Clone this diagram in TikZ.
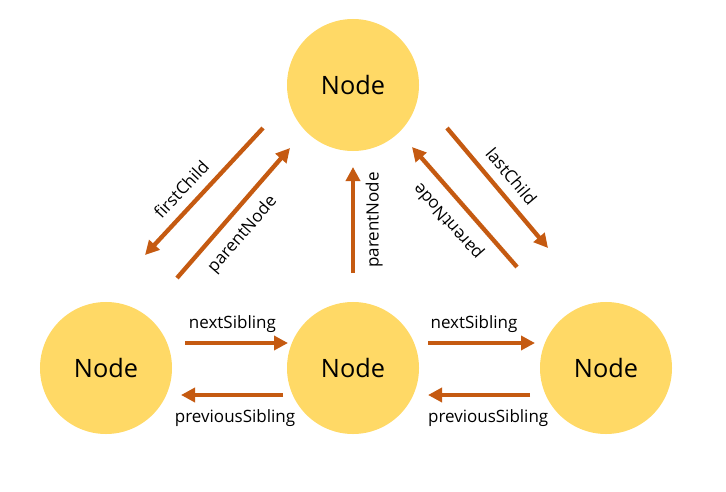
\documentclass[tikz,border=0pt]{standalone}
\usepackage{fontspec}
\setmainfont{Open Sans}
\usetikzlibrary{arrows.meta, positioning, calc}
\definecolor{nodeyellow}{RGB}{255,217,102}
\definecolor{linkorange}{RGB}{197,90,17}
\tikzset{
  treenode/.style={circle,fill=nodeyellow,minimum size=3.96cm,inner sep=0pt,font=\fontsize{21.6}{26}\selectfont},
  linkarr/.style={-{Triangle[length=0.42cm,width=0.42cm]},line width=0.13cm,draw=linkorange},
  linklabel/.style={font=\fontsize{14.5}{17}\selectfont,sloped,inner sep=1pt}
}

\begin{document}
\begin{tikzpicture}[x=0.03cm,y=0.03cm]
  \useasboundingbox (0,0) rectangle (726,491);

  %% tree nodes
  \node[treenode] (top) at (353,406) {Node};
  \node[treenode] (left) at (106,123) {Node};
  \node[treenode] (mid) at (353,123) {Node};
  \node[treenode] (right) at (606,123) {Node};

  %% parent / child links
  \draw[linkarr] ($(top)+(-90,-43)$) -- node[linklabel,pos=0.58,above=0.25cm]{firstChild} ($(left)+(39,113)$);
  \draw[linkarr] ($(left)+(71,90)$) -- node[linklabel,pos=0.44,below=0.28cm]{parentNode} ($(top)+(-63,-63)$);
  \draw[linkarr] ($(mid)+(0,95)$) -- node[linklabel,midway,below=0.28cm]{parentNode} ($(top)+(0,-82)$);
  \draw[linkarr] ($(right)+(-89,101)$) -- node[linklabel,midway,allow upside down,above=0.28cm]{parentNode} ($(top)+(59,-62)$);
  \draw[linkarr] ($(top)+(94,-43)$) -- node[linklabel,midway,above=0.25cm]{lastChild} ($(right)+(-58,120)$);

  %% sibling links
  \draw[linkarr] ($(left)+(79,25)$) -- node[linklabel,pos=0.46,above=0.22cm]{nextSibling} ($(mid)+(-65,25)$);
  \draw[linkarr] ($(mid)+(-70,-27)$) -- node[linklabel,pos=0.47,below=0.34cm]{previousSibling} ($(left)+(75,-27)$);
  \draw[linkarr] ($(mid)+(75,25)$) -- node[linklabel,pos=0.43,above=0.22cm]{nextSibling} ($(right)+(-71,25)$);
  \draw[linkarr] ($(right)+(-76,-27)$) -- node[linklabel,pos=0.41,below=0.34cm]{previousSibling} ($(mid)+(75,-27)$);
\end{tikzpicture}
\end{document}
